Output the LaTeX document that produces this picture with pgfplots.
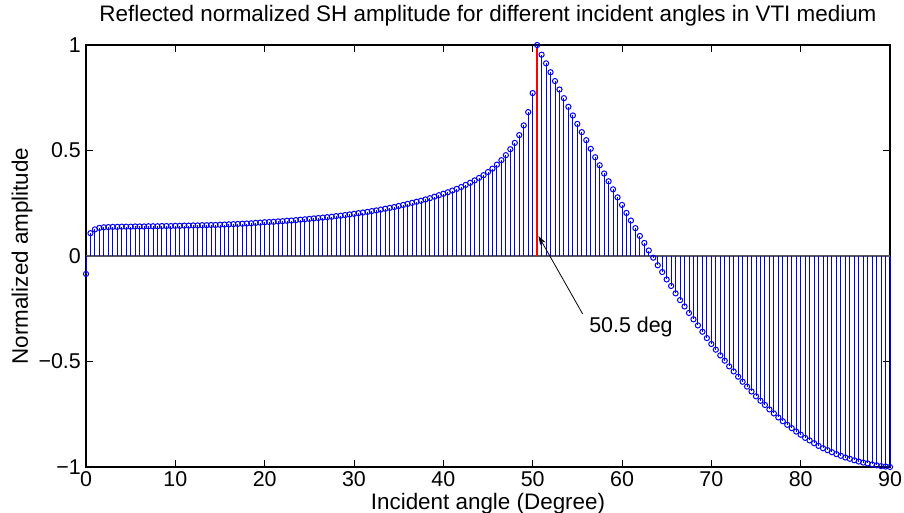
\documentclass[border=0pt]{standalone}
\usepackage{fontspec}
\setmainfont{Liberation Sans}
\usepackage{pgfplots}
\pgfplotsset{compat=1.18}
\usepackage{pgfplotstable}
\usetikzlibrary{arrows.meta}

% reflected SH amplitude (0.5 deg steps)
\pgfplotstableread{
ang amp
0 -0.085
0.5 0.108
1 0.126
1.5 0.133
2 0.136
2.5 0.137
3 0.138
3.5 0.138
4 0.139
4.5 0.139
5 0.139
5.5 0.140
6 0.140
6.5 0.140
7 0.141
7.5 0.141
8 0.141
8.5 0.142
9 0.142
9.5 0.142
10 0.143
10.5 0.143
11 0.144
11.5 0.144
12 0.145
12.5 0.145
13 0.146
13.5 0.146
14 0.147
14.5 0.147
15 0.148
15.5 0.149
16 0.150
16.5 0.151
17 0.152
17.5 0.153
18 0.154
18.5 0.155
19 0.157
19.5 0.158
20 0.160
20.5 0.161
21 0.162
21.5 0.164
22 0.165
22.5 0.167
23 0.168
23.5 0.170
24 0.172
24.5 0.174
25 0.176
25.5 0.178
26 0.180
26.5 0.182
27 0.184
27.5 0.186
28 0.189
28.5 0.191
29 0.194
29.5 0.197
30 0.200
30.5 0.203
31 0.206
31.5 0.209
32 0.213
32.5 0.216
33 0.220
33.5 0.224
34 0.228
34.5 0.232
35 0.237
35.5 0.242
36 0.247
36.5 0.252
37 0.257
37.5 0.262
38 0.268
38.5 0.274
39 0.281
39.5 0.288
40 0.295
40.5 0.302
41 0.310
41.5 0.318
42 0.327
42.5 0.337
43 0.347
43.5 0.358
44 0.370
44.5 0.383
45 0.398
45.5 0.414
46 0.433
46.5 0.454
47 0.478
47.5 0.506
48 0.536
48.5 0.573
49 0.619
49.5 0.682
50 0.772
50.5 1.000
51 0.954
51.5 0.913
52 0.871
52.5 0.829
53 0.789
53.5 0.748
54 0.707
54.5 0.666
55 0.626
55.5 0.587
56 0.549
56.5 0.508
57 0.468
57.5 0.430
58 0.391
58.5 0.354
59 0.316
59.5 0.278
60 0.242
60.5 0.204
61 0.168
61.5 0.132
62 0.095
62.5 0.062
63 0.026
63.5 -0.008
64 -0.044
64.5 -0.076
65 -0.111
65.5 -0.142
66 -0.177
66.5 -0.209
67 -0.239
67.5 -0.270
68 -0.300
68.5 -0.329
69 -0.359
69.5 -0.389
70 -0.417
70.5 -0.444
71 -0.471
71.5 -0.496
72 -0.523
72.5 -0.547
73 -0.572
73.5 -0.596
74 -0.619
74.5 -0.642
75 -0.665
75.5 -0.686
76 -0.706
76.5 -0.727
77 -0.746
77.5 -0.765
78 -0.783
78.5 -0.800
79 -0.816
79.5 -0.832
80 -0.847
80.5 -0.862
81 -0.874
81.5 -0.887
82 -0.900
82.5 -0.911
83 -0.920
83.5 -0.930
84 -0.939
84.5 -0.947
85 -0.955
85.5 -0.961
86 -0.968
86.5 -0.974
87 -0.979
87.5 -0.983
88 -0.988
88.5 -0.992
89 -0.996
89.5 -0.998
90 -1.000
}\shdata

\begin{document}
\begin{tikzpicture}
\path[use as bounding box] (-86bp,-46bp) rectangle (818bp,467bp);
\begin{axis}[
    scale only axis,
    width=804bp, height=422bp,
    xmin=0, xmax=90, ymin=-1, ymax=1,
    xtick={0,10,...,90},
    ytick={-1,-0.5,0,0.5,1},
    yticklabels={−1,−0.5,0,0.5,1},
    tick align=inside, tick pos=both,
    major tick length=7bp,
    tick style={black, line width=0.8bp},
    axis line style={line width=1.3bp},
    /pgf/number format/assume math mode=true,
    tick label style={font=\fontsize{21.5}{24}\selectfont},
    xticklabel style={inner sep=0pt, yshift=-4bp},
    yticklabel style={inner sep=0pt, xshift=-5bp},
    title={Reflected normalized SH amplitude for different incident angles in VTI medium},
    title style={font=\fontsize{22.5}{25}\selectfont, at={(axis description cs:0.5,1)}, anchor=base, yshift=18bp, inner sep=0pt},
    xlabel={Incident angle (Degree)},
    xlabel style={font=\fontsize{22.5}{25}\selectfont, at={(axis description cs:0.5,0)}, anchor=base, yshift=-42bp, inner sep=0pt},
    ylabel={Normalized amplitude},
    ylabel style={font=\fontsize{22.5}{25}\selectfont, at={(axis description cs:-0.0796,0.5)}, anchor=center, inner sep=0pt},
    clip=false,
]
\addplot[gray!70!black, line width=1.5bp] coordinates {(0,0) (90,0)};
\addplot[ycomb, blue, line width=0.9bp, mark=o, mark size=2.6bp,
    mark options={solid, line width=1bp}] table[x=ang, y=amp] {\shdata};
\addplot[red, line width=2.3bp] coordinates {(50.5,0) (50.5,0.985)};
\draw[-{Stealth[length=9bp, width=6bp]}, line width=0.8bp]
    (axis cs:55.6,-0.275) -- (axis cs:50.65,0.095);
\node[font=\fontsize{21.5}{24}\selectfont] at (axis cs:61,-0.338) {50.5 deg};
\end{axis}
\end{tikzpicture}
\end{document}
